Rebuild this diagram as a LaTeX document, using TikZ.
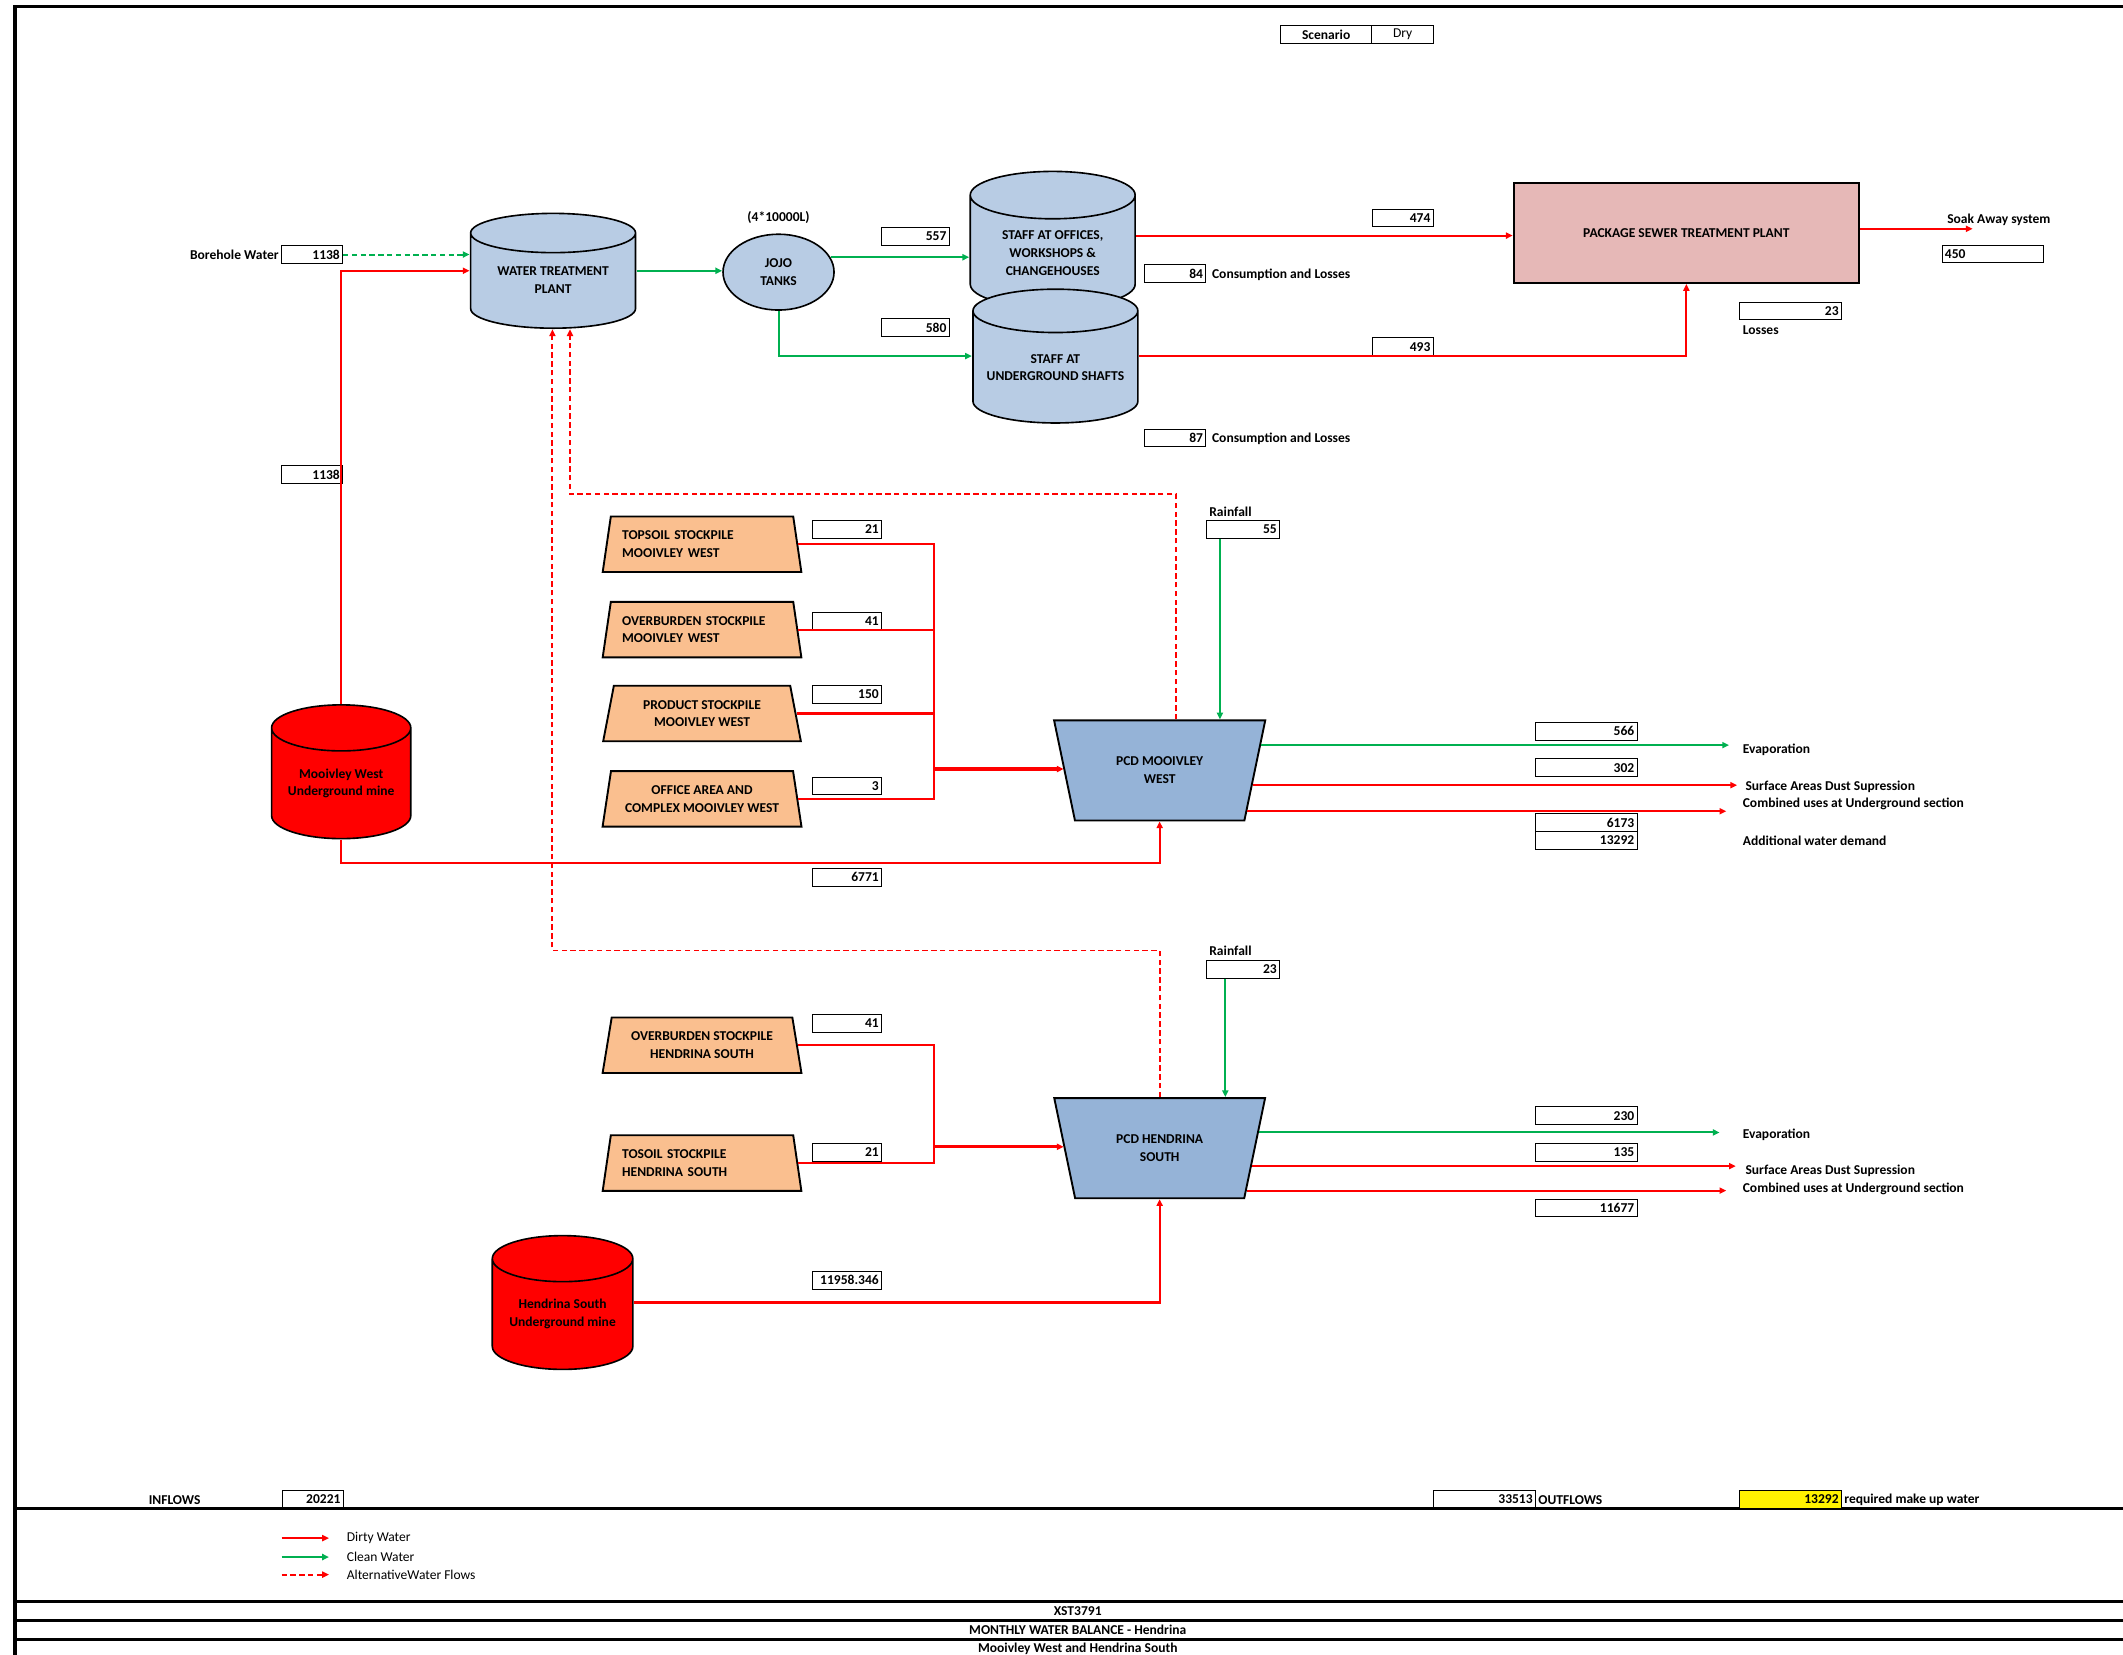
\documentclass[tikz,border=0pt]{standalone}
\usepackage{fontspec}
\setmainfont{Carlito}
\usepackage{tikz}
\usetikzlibrary{positioning, shapes.geometric, arrows.meta, calc}

\definecolor{tankblue}{RGB}{184,204,228}
\definecolor{pcdblue}{RGB}{149,179,215}
\definecolor{pilefill}{RGB}{250,191,143}
\definecolor{sewerpink}{RGB}{230,184,183}
\definecolor{cleangreen}{RGB}{0,176,80}

% upright cylinder inside the node box: fill, ellipse y-radius
\newcommand\tankshape[2]{%
  \draw[line width=1.2pt, fill=#1]
    let \p1=(path picture bounding box.north west), \p2=(path picture bounding box.south east),
        \n1={(\x2-\x1)/2-0.6pt}
    in (\x1+0.6pt,\y1-#2-0.6pt) -- (\x1+0.6pt,\y2+#2+0.6pt)
       arc[start angle=180, end angle=360, x radius=\n1, y radius=#2]
       -- (\x2-0.6pt,\y1-#2-0.6pt)
       arc[start angle=0, end angle=180, x radius=\n1, y radius=#2] -- cycle
       (\x1+0.6pt,\y1-#2-0.6pt)
       arc[start angle=180, end angle=360, x radius=\n1, y radius=#2];
}

\begin{document}
\begin{tikzpicture}[
  x=1pt, y=-1pt,
  every node/.style={align=center, font=\fontsize{10}{13}\selectfont\bfseries},
  tank/.style 2 args={rectangle, inner sep=0pt, path picture={\tankshape{#1}{#2}}},
  pile/.style={trapezium, trapezium left angle=75, trapezium right angle=75, trapezium stretches=true, draw, line width=1.4pt, fill=pilefill, minimum width=147pt, minimum height=41pt, inner sep=0pt},
  pileL/.style={pile, text width=118pt, align=left},
  pcd/.style={trapezium, trapezium left angle=68, trapezium right angle=68, shape border rotate=180, trapezium stretches=true, draw, line width=1.4pt, fill=pcdblue, minimum width=157pt, minimum height=74pt, inner sep=0pt},
  val/.style={draw, line width=0.6pt, inner xsep=2pt, inner ysep=0pt, minimum height=13pt, text width=#1, align=right},
  val/.default=41pt,
  lbl/.style={anchor=west, inner sep=0pt},
  lgd/.style={lbl, font=\fontsize{10}{12}\selectfont},
  tip/.style={-{Triangle[length=5pt, width=4.5pt]}},
  dirty/.style={draw=red, line width=1.6pt, tip},
  dirtyline/.style={draw=red, line width=1.6pt},
  clean/.style={draw=cleangreen, line width=1.5pt, tip},
  altclean/.style={clean, dash pattern=on 4pt off 2.5pt},
  alt/.style={dirty, line width=1.4pt, dash pattern=on 4pt off 2.5pt}
]
  \useasboundingbox (0,0) rectangle (1568,1222);

  % Frame
  \draw[line width=2.5pt] (1568,5) -- (11,5) -- (11,1222);
  \draw[line width=2pt] (11,1114) -- (1568,1114);
  \draw[line width=2pt] (11,1183) -- (1568,1183);
  \draw[line width=2pt] (11,1197) -- (1568,1197);
  \draw[line width=2pt] (11,1211) -- (1568,1211);

  % Scenario
  \node[draw, line width=0.8pt, minimum width=67pt, minimum height=13pt, inner sep=0pt] (scen) at (979.5,25.5) {Scenario};
  \node[draw, line width=0.8pt, minimum width=46pt, minimum height=13pt, inner sep=0pt, font=\fontsize{10}{13}\selectfont] (dry) at (1036,25.5) {Dry};

  % Treatment and staff
  \node[lbl, anchor=east] (bhlbl) at (206,188) {Borehole Water};
  \node[val] (bh) at (230.5,188) {1138};
  \node[tank={tankblue}{14.5pt}, minimum width=123pt, minimum height=86pt,
        label={[yshift=-7pt]center:{WATER TREATMENT\\PLANT}}] (wtp) at (408.5,200) {};
  \node[ellipse, draw, line width=1.2pt, fill=tankblue, minimum width=82pt, minimum height=56pt, inner sep=0pt] (jojo) at (575,201) {JOJO\\TANKS};
  \node (jojocap) at (575,161) {(4*10000L)};
  \node[tank={tankblue}{17.5pt}, minimum width=123pt, minimum height=102pt,
        label={[yshift=-10pt]center:{STAFF AT OFFICES,\\WORKSHOPS \&\\CHANGEHOUSES}}] (offices) at (777.5,177) {};
  \node[tank={tankblue}{16pt}, minimum width=123pt, minimum height=100pt,
        label={[yshift=-8.5pt]center:{STAFF AT\\UNDERGROUND SHAFTS}}] (shafts) at (779.5,263) {};
  \node[val=46pt] (v557) at (676,174.5) {557};
  \node[val=46pt] (v580) at (676,242) {580};
  \node[val] (v474) at (1036,161) {474};
  \node[val] (v493) at (1036,256) {493};
  \node[val] (v84) at (868,202) {84};
  \node[lbl] (loss84) at (895,203) {Consumption and Losses};
  \node[val] (v87) at (868,323.5) {87};
  \node[lbl] (loss87) at (895,324) {Consumption and Losses};
  \node[draw, line width=1.5pt, fill=sewerpink, minimum width=255pt, minimum height=74pt] (pstp) at (1245.5,172) {PACKAGE SEWER TREATMENT PLANT};
  \node[lbl] (soak) at (1438,162) {Soak Away system};
  \coordinate (soakend) at (1457,169);
  \node[val=71pt, align=left] (v450) at (1472,187.5) {450};
  \node[val=71pt] (v23l) at (1322.5,229.5) {23};
  \node[lbl] (losses) at (1287,244) {Losses};
  \node[val] (v1138) at (230.5,350.5) {1138};

  \draw[altclean] (bh.east) -- (bh.east -| wtp.west);
  \draw[clean] (wtp.east) -- (wtp.east -| jojo.180);
  \draw[clean] (jojo.16) -- (jojo.16 -| offices.west);
  \draw[clean] (jojo.270) |- (shafts.west);
  \draw[dirty] ([yshift=3pt]offices.east) -- ([yshift=3pt]offices.east -| pstp.west);
  \draw[dirty] (shafts.east) -| (pstp.south);
  \draw[dirty] (pstp.east |- soakend) -- (soakend);

  % Mooivley West
  \node[tank={red}{17pt}, minimum width=104pt, minimum height=100pt,
        label={[yshift=-8.5pt]center:{Mooivley West\\Underground mine}}] (mwmine) at (252,570) {};
  \node[pileL] (topmw) at (518.5,402) {TOPSOIL STOCKPILE\\MOOIVLEY WEST};
  \node[pileL] (obmw) at (518.5,465) {OVERBURDEN STOCKPILE\\MOOIVLEY WEST};
  \node[pile] (prmw) at (518.5,527) {PRODUCT STOCKPILE\\MOOIVLEY WEST};
  \node[pile] (ofmw) at (518.5,590) {OFFICE AREA AND\\COMPLEX MOOIVLEY WEST};
  \node[val=47pt] (v21mw) at (625.5,391) {21};
  \node[val=47pt] (v41mw) at (625.5,459) {41};
  \node[val=47pt] (v150) at (625.5,513) {150};
  \node[val=47pt] (v3) at (625.5,580.5) {3};
  \node[val=47pt] (v6771) at (625.5,648) {6771};
  \coordinate (jmw) at (690,568);
  \node[pcd] (pcdmw) at (856.5,569) {PCD MOOIVLEY\\WEST};
  \node[lbl] (rainmw) at (893,378) {Rainfall};
  \node[val=50pt] (r55) at (918,391) {55};
  \node[val=71pt] (v566) at (1171.5,540) {566};
  \node[val=71pt] (v302) at (1171.5,567) {302};
  \node[val=71pt] (v6173) at (1171.5,607.5) {6173};
  \node[val=71pt] (v13292) at (1171.5,620.5) {13292};
  \node[lbl] (evmwl) at (1287,554) {Evaporation};
  \node[lbl] (dsmwl) at (1289,581) {Surface Areas Dust Supression};
  \node[lbl] (cumwl) at (1287,594) {Combined uses at Underground section};
  \node[lbl] (admwl) at (1287,621) {Additional water demand};
  \coordinate (evmw) at (1277,551);
  \coordinate (dsmw) at (1283,580);
  \coordinate (cumw) at (1275,597);

  \draw[dirty] (mwmine.north) |- (wtp.west);
  \draw[dirtyline] (topmw.east) -| (jmw);
  \draw[dirtyline] (obmw.east) -| (jmw);
  \draw[dirtyline] (prmw.east) -| (jmw);
  \draw[dirtyline] (ofmw.east) -| (jmw);
  \draw[dirty, line width=2.4pt] (jmw) -- (jmw -| pcdmw.180);
  \draw[dirty] (mwmine.south) -- ++(0,17) -| (pcdmw.270);
  \draw[clean] ([xshift=-17pt]r55.south) -- ([xshift=-17pt]r55.south |- pcdmw.90);
  \draw[clean] (pcdmw.14) -- (pcdmw.14 -| evmw);
  \draw[dirty] (pcdmw.-9) -- (pcdmw.-9 -| dsmw);
  \draw[dirty] (pcdmw.-25) -- (pcdmw.-25 -| cumw);

  % Hendrina South
  \node[pile] (obhs) at (518.5,772) {OVERBURDEN STOCKPILE\\HENDRINA SOUTH};
  \node[pileL] (tshs) at (518.5,859) {TOSOIL STOCKPILE\\HENDRINA SOUTH};
  \node[val=47pt] (v41hs) at (625.5,756) {41};
  \node[val=47pt] (v21hs) at (625.5,851) {21};
  \coordinate (jhs) at (690,847);
  \node[pcd] (pcdhs) at (856.5,848) {PCD HENDRINA\\SOUTH};
  \node[lbl] (rainhs) at (893,702) {Rainfall};
  \node[val=50pt] (r23) at (918,716) {23};
  \node[val=71pt] (v230) at (1171.5,824) {230};
  \node[val=71pt] (v135) at (1171.5,851) {135};
  \node[val=71pt] (v11677) at (1171.5,892) {11677};
  \node[lbl] (evhsl) at (1287,838) {Evaporation};
  \node[lbl] (dshsl) at (1289,865) {Surface Areas Dust Supression};
  \node[lbl] (cuhsl) at (1287,878) {Combined uses at Underground section};
  \coordinate (evhs) at (1270,837);
  \coordinate (dshs) at (1282,862);
  \coordinate (cuhs) at (1275,880);
  \node[tank={red}{17pt}, minimum width=105pt, minimum height=100pt,
        label={[yshift=-8.5pt]center:{Hendrina South\\Underground mine}}] (hsmine) at (415.5,962) {};
  \node[val=47pt] (v11958) at (625.5,945.5) {11958.346};

  \draw[dirtyline] (obhs.east) -| (jhs);
  \draw[dirtyline] (tshs.east) -| (jhs);
  \draw[dirty, line width=2.4pt] (jhs) -- (jhs -| pcdhs.180);
  \draw[dirty] (hsmine.east) -| (pcdhs.270);
  \draw[clean] ([xshift=-13pt]r23.south) -- ([xshift=-13pt]r23.south |- pcdhs.90);
  \draw[clean] (pcdhs.9) -- (pcdhs.9 -| evhs);
  \draw[dirty] (pcdhs.-11) -- (pcdhs.-11 -| dshs);
  \draw[dirty] (pcdhs.-26) -- (pcdhs.-26 -| cuhs);

  % Alternative flows back to treatment
  \coordinate (altmw) at (421,365);
  \coordinate (alths) at (408,702);
  \draw[alt] ([xshift=12pt]pcdmw.90) |- (altmw) -- (altmw |- wtp.south);
  \draw[alt] (pcdhs.90) |- (alths) -- (alths |- wtp.south);

  % Totals
  \node (inflows) at (129,1108) {INFLOWS};
  \node[val] (vin) at (231,1107.5) {20221};
  \node[val=71pt] (vout) at (1096.5,1107.5) {33513};
  \node[lbl] (outl) at (1136,1108) {OUTFLOWS};
  \node[val=71pt, fill=yellow] (vreq) at (1322.5,1107.5) {13292};
  \node[lbl] (reql) at (1362,1108) {required make up water};

  % Legend
  \node[lgd] (lgdirty) at (256,1136) {Dirty Water};
  \node[lgd] (lgclean) at (256,1150) {Clean Water};
  \node[lgd] (lgalt) at (256,1163) {AlternativeWater Flows};
  \draw[dirty] ([xshift=-48pt]lgdirty.west) -- ([xshift=-13pt]lgdirty.west);
  \draw[clean] ([xshift=-48pt]lgclean.west) -- ([xshift=-13pt]lgclean.west);
  \draw[alt] ([xshift=-48pt]lgalt.west) -- ([xshift=-13pt]lgalt.west);

  % Title block
  \node (title1) at (796,1190) {XST3791};
  \node (title2) at (796,1204) {MONTHLY WATER BALANCE - Hendrina};
  \node (title3) at (796,1218) {Mooivley West and Hendrina South};
\end{tikzpicture}
\end{document}
